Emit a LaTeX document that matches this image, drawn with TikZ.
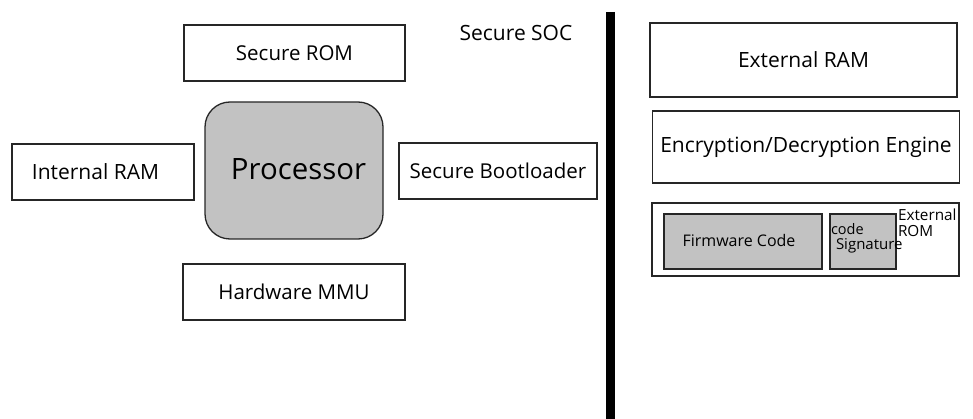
\documentclass[tikz,border=0pt]{standalone}
\usepackage{fontspec}
\setmainfont{Open Sans}
\begin{document}
\begin{tikzpicture}[x=1pt,y=-1pt,
  box/.style={draw=black!85,line width=1.3pt,inner sep=0pt,outer sep=0pt,fill=white},
  gbox/.style={box,fill=black!24},
  lbl/.style={inner sep=0pt,outer sep=0pt,text=black}]
\useasboundingbox (0,0) rectangle (973,419);
% left side
\node[box,text=black,minimum width=221pt,minimum height=56pt,font=\fontsize{20.5}{20.5}\selectfont] (srom) at (294.5,53) {Secure ROM};
\node[box,minimum width=182pt,minimum height=56pt] (iram) at (103,172) {};
\node[lbl,font=\fontsize{21}{21}\selectfont] (iramt) at (95.5,172) {Internal RAM};
\node[gbox,rounded corners=25pt,minimum width=178pt,minimum height=137pt] (proc) at (294,170.5) {};
\node[lbl,font=\fontsize{29.4}{29.4}\selectfont] (proct) at (298.5,169) {Processor};
\node[box,text=black,minimum width=222pt,minimum height=56pt,font=\fontsize{20.5}{20.5}\selectfont] (mmu) at (294,292) {Hardware MMU};
\node[box,text=black,minimum width=198pt,minimum height=56pt,font=\fontsize{20.5}{20.5}\selectfont] (boot) at (498,171) {Secure Bootloader};
\node[lbl,font=\fontsize{21}{21}\selectfont] (soc) at (516,33) {Secure SOC};
% divider
\coordinate (bartop) at (610.5,12);
\coordinate (barbot) at (610.5,419);
\draw[line width=9pt,black] (bartop) -- (barbot);
% right side
\node[box,text=black,minimum width=307pt,minimum height=74pt,font=\fontsize{21}{21}\selectfont] (eram) at (803.5,60) {External RAM};
\node[box,text=black,minimum width=307pt,minimum height=72pt,font=\fontsize{21}{21}\selectfont] (enc) at (806,147) {Encryption/Decryption Engine};
\node[box,line width=1.1pt,minimum width=307pt,minimum height=73pt] (erom) at (805.5,239.5) {};
\node[gbox,line width=1.1pt,minimum width=158pt,minimum height=55pt] (fw) at (743,241.5) {};
\node[lbl,font=\fontsize{16}{16}\selectfont] (fwt) at (739,241) {Firmware Code};
\node[gbox,line width=1.1pt,minimum width=66pt,minimum height=55pt] (sig) at (863,241.5) {};
\node[lbl,anchor=west,font=\fontsize{14.5}{14.5}\selectfont] (codet) at (831,229) {code};
\node[lbl,anchor=west,font=\fontsize{15}{15}\selectfont] (sigt) at (836,246) {Signature};
\node[lbl,anchor=west,font=\fontsize{15.3}{15.3}\selectfont] (ext) at (898,215) {External};
\node[lbl,anchor=west,font=\fontsize{15.3}{15.3}\selectfont] (romt) at (898,231) {ROM};
\end{tikzpicture}
\end{document}
